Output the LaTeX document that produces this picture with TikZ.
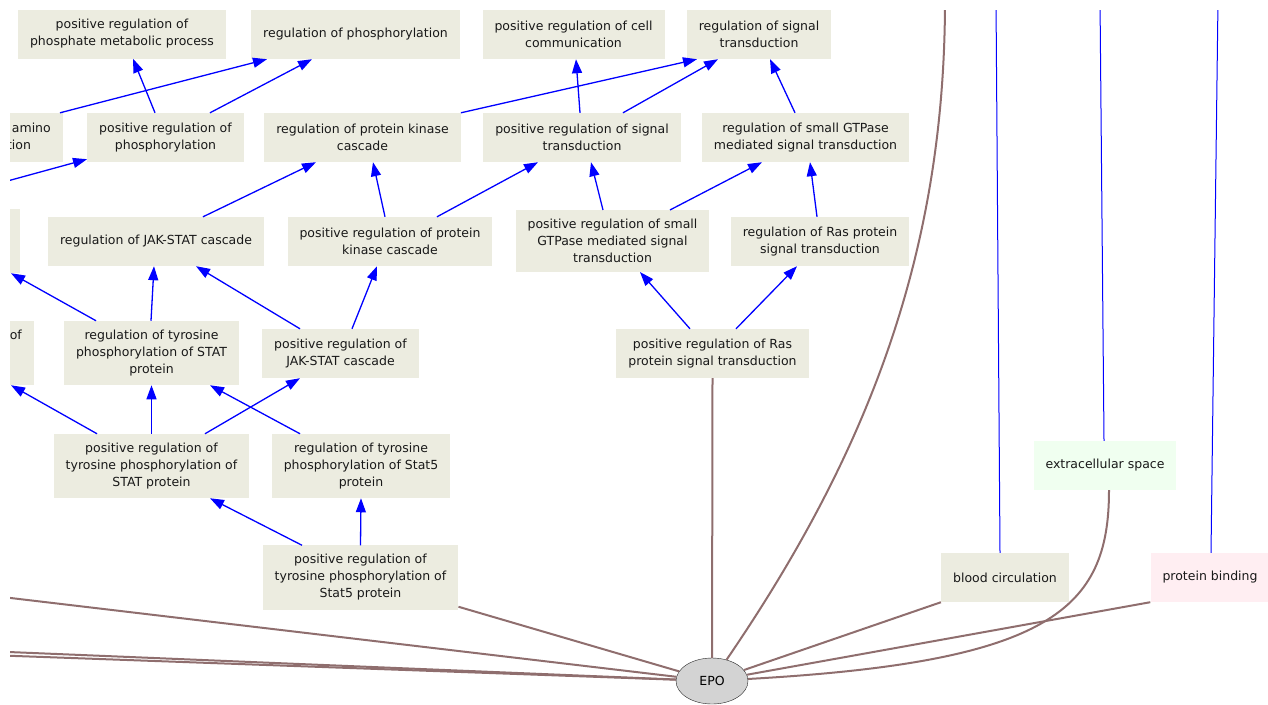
\documentclass[tikz,border=0pt]{standalone}
\usepackage{fontspec}
\setmainfont{DejaVu Sans}
\usetikzlibrary{shapes.geometric,arrows.meta}
\definecolor{termfill}{RGB}{236,236,224}
\definecolor{ccfill}{RGB}{240,255,240}
\definecolor{mffill}{RGB}{255,238,242}
\definecolor{annot}{RGB}{143,110,110}
\definecolor{genefill}{RGB}{211,211,211}

\begin{document}
\begin{tikzpicture}[x=1pt, y=-1pt,
    term/.style={fill=termfill, text=black!90, font=\fontsize{12.5}{17}\selectfont,
        align=center, inner xsep=12pt, inner ysep=9pt, minimum height=49pt},
    gene/.style={ellipse, draw=black!85, fill=genefill, font=\fontsize{12.5}{15}\selectfont,
        minimum width=72pt, minimum height=46pt, inner sep=0pt},
    isa/.style={draw=blue, line width=1.3pt, -{Triangle[length=14pt,width=10pt]}},
    isathin/.style={draw=blue, line width=1pt},
    ann/.style={draw=annot, line width=2pt}]
    \useasboundingbox (0,0) rectangle (1268,704);
    \clip (10,10) rectangle (1268,704);

    % terms
    \node[term] (phosmeta) at (122,34) {positive regulation of\\phosphate metabolic process};
    \node[term] (regphos) at (355.5,34.5) {regulation of phosphorylation};
    \node[term] (poscell) at (573.5,34.5) {positive regulation of cell\\communication};
    \node[term] (regsig) at (759,34.5) {regulation of signal\\transduction};

    \node[term, anchor=east] (regaa) at (63,137.5) {regulation of protein amino\\acid phosphorylation};
    \node[term] (posphos) at (165.5,137.5) {positive regulation of\\phosphorylation};
    \node[term] (regpkc) at (362.5,137.5) {regulation of protein kinase\\cascade};
    \node[term] (possig) at (582,137.5) {positive regulation of signal\\transduction};
    \node[term] (regsmall) at (805.5,137.5) {regulation of small GTPase\\mediated signal transduction};

    \node[term, anchor=east] (regpty) at (20,241) {regulation of\\peptidyl-tyrosine\\phosphorylation};
    \node[term] (regjak) at (156,241.5) {regulation of JAK-STAT cascade};
    \node[term] (pospkc) at (390,241.5) {positive regulation of protein\\kinase cascade};
    \node[term] (possmall) at (612.5,241) {positive regulation of small\\GTPase mediated signal\\transduction};
    \node[term] (regras) at (820,241.5) {regulation of Ras protein\\signal transduction};

    \node[term, anchor=east] (pospty) at (34,353) {positive regulation of\\peptidyl-tyrosine\\phosphorylation};
    \node[term] (regstat) at (151.5,353) {regulation of tyrosine\\phosphorylation of STAT\\protein};
    \node[term] (posjak) at (340.5,353.5) {positive regulation of\\JAK-STAT cascade};
    \node[term] (posras) at (712.5,353.5) {positive regulation of Ras\\protein signal transduction};

    \node[term] (posstat) at (151.5,466) {positive regulation of\\tyrosine phosphorylation of\\STAT protein};
    \node[term] (regstat5) at (361,466) {regulation of tyrosine\\phosphorylation of Stat5\\protein};
    \node[term, fill=ccfill] (extra) at (1105,465.5) {extracellular space};

    \node[term] (posstat5) at (360.5,577.5) {positive regulation of\\tyrosine phosphorylation of\\Stat5 protein};
    \node[term] (blood) at (1005,577.5) {blood circulation};
    \node[term, fill=mffill] (binding) at (1210,577.5) {protein binding};

    \node[gene] (epo) at (712,681) {EPO};

    % free ends off the picture
    \coordinate (posaa) at (-40,194);
    \coordinate (bloodup) at (996,0);
    \coordinate (extraup) at (1100,0);
    \coordinate (bindingup) at (1218,0);
    \coordinate (bpup) at (945,0);
    \coordinate (leftA) at (-40,592);
    \coordinate (leftB) at (-40,650);
    \coordinate (leftC) at (-40,654);

    % is_a edges
    \draw[isa] ([xshift=-10.5pt]posphos.north) -- ([xshift=11pt]phosmeta.south);
    \draw[isa] ([xshift=44.5pt]posphos.north) -- ([xshift=-43.5pt]regphos.south);
    \draw[isa] ([xshift=-3pt]regaa.north east) -- ([xshift=-88.5pt]regphos.south);
    \draw[isa] (posaa) -- ([yshift=3pt]posphos.south west);
    \draw[isa] (regpkc.north east) -- ([xshift=-62pt]regsig.south);
    \draw[isa] ([xshift=-2pt]possig.north) -- ([xshift=2.5pt]poscell.south);
    \draw[isa] ([xshift=41pt]possig.north) -- ([xshift=-41pt]regsig.south);
    \draw[isa] ([xshift=-10.5pt]regsmall.north) -- ([xshift=11pt]regsig.south);

    \draw[isa] ([xshift=47pt]regjak.north) -- ([xshift=-46.5pt]regpkc.south);
    \draw[isa] ([xshift=-5pt]pospkc.north) -- ([xshift=10.5pt]regpkc.south);
    \draw[isa] ([xshift=47pt]pospkc.north) -- ([xshift=-44pt]possig.south);
    \draw[isa] ([xshift=-9.5pt]possmall.north) -- ([xshift=9pt]possig.south);
    \draw[isa] ([xshift=57.5pt]possmall.north) -- ([xshift=-43.5pt]regsmall.south);
    \draw[isa] ([xshift=-3pt]regras.north) -- ([xshift=4.5pt]regsmall.south);

    \draw[isa] ([xshift=-55.5pt]regstat.north) -- ([xshift=-9pt]regpty.south east);
    \draw[isa] ([xshift=-0.5pt]regstat.north) -- ([xshift=-2pt]regjak.south);
    \draw[isa] ([xshift=-40.5pt]posjak.north) -- ([xshift=40pt]regjak.south);
    \draw[isa] ([xshift=11.5pt]posjak.north) -- ([xshift=-13pt]pospkc.south);
    \draw[isa] ([xshift=-22.5pt]posras.north) -- ([xshift=27.5pt]possmall.south);
    \draw[isa] ([xshift=23.5pt]posras.north) -- ([xshift=-23pt]regras.south);

    \draw[isa] ([xshift=-54.5pt]posstat.north) -- ([xshift=-23pt]pospty.south east);
    \draw[isa] (posstat.north) -- (regstat.south);
    \draw[isa] ([xshift=53.5pt]posstat.north) -- ([xshift=-40.5pt]posjak.south);
    \draw[isa] ([xshift=-61pt]regstat5.north) -- ([xshift=58.5pt]regstat.south);
    \draw[isa] ([xshift=-58.5pt]posstat5.north) -- ([xshift=58.5pt]posstat.south);
    \draw[isa] (posstat5.north) -- (regstat5.south);

    \draw[isathin] ([xshift=-5pt]blood.north) -- (bloodup);
    \draw[isathin] ([xshift=-1pt]extra.north) -- (extraup);
    \draw[isathin] ([xshift=1pt]binding.north) -- (bindingup);

    % annotations of EPO
    \draw[ann] (posras.south) -- (epo);
    \draw[ann] (epo) .. controls (870,450) and (945,250) .. (bpup);
    \draw[ann] (blood.south west) -- (epo);
    \draw[ann] ([xshift=4pt]extra.south) .. controls (1109,610) and (1050,662) .. (epo);
    \draw[ann] (binding.south west) -- (epo);
    \draw[ann] ([yshift=3pt]posstat5.south east) -- (epo);
    \draw[ann] (leftA) -- (epo);
    \draw[ann] (leftB) -- (epo);
    \draw[ann] (leftC) -- (epo);
\end{tikzpicture}
\end{document}
